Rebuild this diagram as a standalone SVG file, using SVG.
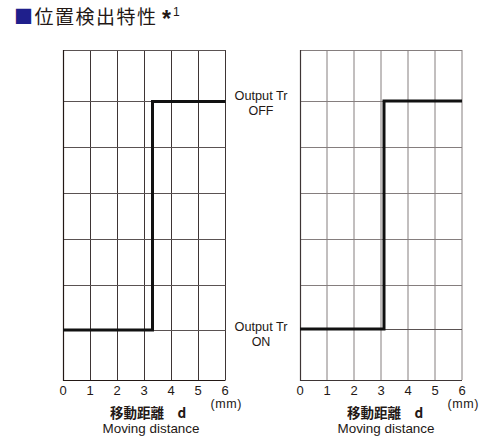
<svg xmlns="http://www.w3.org/2000/svg" width="497" height="438" viewBox="0 0 497 438">
<style>
.t{font-family:"Noto Sans CJK JP",sans-serif;fill:#231815}
.l{font-family:"Liberation Sans",Arial,sans-serif;fill:#231815}
.ax{font-family:"Liberation Sans",Arial,sans-serif;font-size:13px;fill:#231815;text-anchor:middle}
.mm{font-family:"Liberation Sans",Arial,sans-serif;font-size:12.5px;fill:#231815;text-anchor:middle}
.gl{stroke:#3e3535;stroke-width:1;fill:none}
.gr{stroke:#857e7e;stroke-width:1;fill:none}
.hr{stroke:#5a5252;stroke-width:1;fill:none}
.step{stroke:#111;stroke-width:3;fill:none;stroke-linejoin:miter}
</style>
<rect width="497" height="438" fill="#fff"/>
<g id="title">
<text x="14" y="24" class="t" font-size="19" letter-spacing="1.5"><tspan fill="#1f1f8c">■</tspan>位置検出特性</text>
<text x="162" y="27" class="l" font-size="23" font-weight="bold">*</text>
<text x="173" y="16" class="l" font-size="12">1</text>
</g>
<g id="chart-left">
<path class="gl" d="M90.5 50V380M117.5 50V380M144.5 50V380M171.5 50V380M198.5 50V380M225.5 50V380"/>
<path class="hr" d="M63 50.5H225.5M63 101.5H225.5M63 147.5H225.5M63 193.5H225.5M63 239.5H225.5M63 285.5H225.5M63 330.5H225.5"/>
<path stroke="#231815" stroke-width="1.2" fill="none" d="M63.5 50V380.5H225.5"/>
</g>
<g id="chart-right">
<path class="gr" d="M327 50V380M354 50V380M381 50V380M408 50V380M435 50V380M462 50V380"/>
<path class="gr" d="M300 50.5H462M300 101.5H462M300 147.5H462M300 193.5H462M300 239.5H462M300 285.5H462"/>
<path class="hr" d="M300 329.5H462"/>
<path stroke="#3e3535" stroke-width="1.2" fill="none" d="M300.5 50V380.5H462"/>
</g>
<g id="connectors">
<path class="step" d="M63 330H152.5V101.5H225.5"/>
<path class="step" d="M300 329H384V101H462"/>
</g>
<g id="labels">
<text x="261" y="99.5" class="l" font-size="12.5" text-anchor="middle" textLength="53" lengthAdjust="spacingAndGlyphs">Output Tr</text>
<text x="261" y="115" class="l" font-size="12.5" text-anchor="middle">OFF</text>
<text x="261" y="331" class="l" font-size="12.5" text-anchor="middle" textLength="53" lengthAdjust="spacingAndGlyphs">Output Tr</text>
<text x="261" y="346" class="l" font-size="12.5" text-anchor="middle">ON</text>
</g>
<g id="axis-left">
<text class="ax" x="63" y="395">0</text><text class="ax" x="90" y="395">1</text><text class="ax" x="117" y="395">2</text><text class="ax" x="144" y="395">3</text><text class="ax" x="171" y="395">4</text><text class="ax" x="198" y="395">5</text><text class="ax" x="225" y="395">6</text>
<text class="mm" x="226" y="408" textLength="31" lengthAdjust="spacing">(mm)</text>
<text class="t" x="148" y="418" font-size="13.5" font-weight="bold" text-anchor="middle">移動距離　d</text>
<text class="ax" x="151" y="433" font-size="14" textLength="97" lengthAdjust="spacingAndGlyphs">Moving distance</text>
</g>
<g id="axis-right">
<text class="ax" x="300" y="395">0</text><text class="ax" x="327" y="395">1</text><text class="ax" x="354" y="395">2</text><text class="ax" x="381" y="395">3</text><text class="ax" x="408" y="395">4</text><text class="ax" x="435" y="395">5</text><text class="ax" x="462" y="395">6</text>
<text class="mm" x="463" y="408" textLength="31" lengthAdjust="spacing">(mm)</text>
<text class="t" x="385" y="418" font-size="13.5" font-weight="bold" text-anchor="middle">移動距離　d</text>
<text class="ax" x="386" y="433" font-size="14" textLength="97" lengthAdjust="spacingAndGlyphs">Moving distance</text>
</g>
</svg>
